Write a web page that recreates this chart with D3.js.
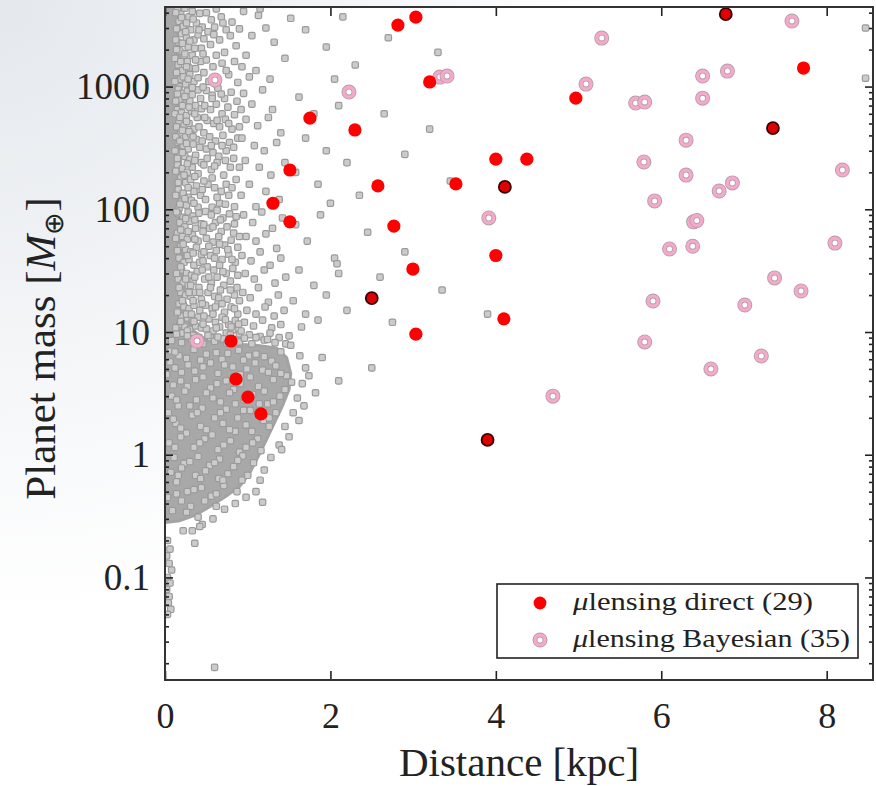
<!DOCTYPE html>
<html>
<head>
<meta charset="utf-8">
<script src="https://cdn.jsdelivr.net/npm/d3@7"></script>
<style>
  html, body { margin: 0; padding: 0; background: #fff; }
  svg { display: block; }
</style>
</head>
<body>
<svg id="chart" width="876" height="786"></svg>
<script>
// Microlensing planets: [distance (kpc), planet mass (Earth masses)]
const directPlanets = [
  [2.816, 3170], [3.033, 3680], [3.20, 1090], [1.752, 553], [2.296, 443],
  [1.51, 209], [1.305, 112], [1.51, 79], [2.574, 155], [2.767, 73],
  [2.997, 32.6], [3.033, 9.6], [3.517, 161], [4.0, 256], [4.375, 256],
  [4.0, 42], [4.097, 12.8], [4.967, 805], [7.72, 1416], [0.798, 8.45],
  [0.858, 4.14], [1.003, 2.95], [1.16, 2.15]
];
// direct measurements drawn with a dark rim
const directPlanetsRimmed = [
  [6.78, 3890], [7.35, 459], [4.109, 152], [2.50, 18.9], [3.90, 1.32]
];
const bayesianPlanets = [
  [0.604, 1130], [0.387, 8.45], [2.224, 902], [3.323, 1194], [3.41, 1218],
  [5.28, 2483], [5.09, 1047], [3.915, 85], [4.69, 3.0], [5.69, 734],
  [5.80, 748], [5.79, 243], [5.92, 117], [5.90, 17.9], [5.80, 8.3],
  [6.10, 47.5], [6.30, 366], [6.30, 190], [6.38, 50], [6.39, 79],
  [6.43, 81], [6.50, 1218], [6.50, 805], [6.70, 141], [6.86, 164],
  [6.80, 1337], [6.60, 5.0], [7.01, 16.6], [7.21, 6.37], [7.37, 27.6],
  [7.58, 3420], [7.69, 21.6], [8.10, 53], [8.19, 209]
];

// Outline of the densest part of the simulated population
const simulatedCore = [
  [0, 4450], [0.17, 4450], [0.15, 2600], [0.18, 1300], [0.16, 600], [0.19, 250],
  [0.17, 110], [0.21, 45], [0.24, 18], [0.32, 10.5], [0.5, 8.6], [0.8, 8.0],
  [1.1, 7.8], [1.35, 7.4], [1.47, 6.2], [1.52, 4.6], [1.5, 3.4], [1.42, 2.5],
  [1.32, 1.8], [1.22, 1.3], [1.12, 0.95], [1.02, 0.7], [0.9, 0.55], [0.72, 0.45],
  [0.52, 0.37], [0.36, 0.32], [0.18, 0.29], [0, 0.28]
];

// Simulated planet population: [distance (kpc), mass (Earth masses)]
const simulatedPlanets = [
  // high-mass band
  [0.15,4200],[0.19,3900],[0.24,4350],[0.17,3400],[0.22,3100],[0.29,3700],[0.33,4100],[0.2,2700],
  [0.26,2500],[0.16,2300],[0.31,2900],[0.38,3300],[0.42,3950],[0.18,1950],[0.23,1750],[0.28,2100],
  [0.35,2400],[0.4,2650],[0.16,1500],[0.21,1350],[0.27,1600],[0.33,1800],[0.44,2050],[0.19,1150],
  [0.25,1050],[0.3,1250],[0.37,1400],[0.43,1600],[0.17,1000],[0.35,1100],[0.4,1180],[0.29,1420],
  [0.47,1300],[0.45,3050],[0.36,2050],
  [0.5,4000],[0.56,3500],[0.62,4300],[0.68,3700],[0.52,2800],[0.6,3050],[0.74,2900],[0.81,3350],
  [0.55,2200],[0.66,2400],[0.72,1900],[0.86,2150],[0.5,1650],[0.58,1450],[0.69,1550],[0.77,1250],
  [0.84,1600],[0.53,1100],[0.63,1020],[0.88,1080],
  [0.95,4100],[1.13,3800],[1.15,4300],[1.05,2600],[1.22,3000],[0.98,1800],[1.32,2300],[1.1,1350],
  [1.45,1700],[1.27,1150],[1.52,3600],[1.02,1200],
  [1.7,2900],[1.95,2100],[2.15,3700],[2.3,1500],[2.05,1150],[2.7,2500],[3.3,1900],
  [8.47,3000],[8.47,1170],
  [0.13,4000],[0.2,3650],[0.26,3300],[0.14,2950],[0.25,2800],[0.13,2400],[0.21,2250],[0.3,2350],
  [0.14,2000],[0.24,1850],[0.12,1700],[0.19,1600],[0.26,1450],[0.14,1300],[0.22,1200],[0.12,1100],
  [0.28,1150],[0.34,3550],[0.41,2900],[0.47,2450],[0.59,2650],[0.7,3300],[0.79,2600],[0.9,2950],
  [0.37,1650],[0.46,1850],[0.62,1800],[0.74,1350],[0.93,1450],
  // 100 - 1000
  [0.16,950],[0.21,880],[0.27,920],[0.33,860],[0.4,940],[0.18,780],[0.24,720],[0.3,760],[0.37,700],
  [0.43,800],[0.15,650],[0.2,610],[0.26,580],[0.32,630],[0.39,560],[0.44,660],[0.17,520],[0.23,480],
  [0.29,500],[0.35,450],[0.41,470],[0.19,420],[0.25,390],[0.31,410],[0.38,370],[0.16,350],[0.22,330],
  [0.28,310],[0.34,340],[0.42,320],[0.18,285],[0.24,270],[0.3,255],[0.37,275],[0.44,240],[0.15,230],
  [0.21,215],[0.27,200],[0.33,220],[0.4,195],[0.19,180],[0.25,165],[0.31,175],[0.38,155],[0.16,145],
  [0.22,135],[0.28,125],[0.35,140],[0.43,130],[0.2,115],[0.26,108],[0.32,118],[0.4,104],[0.17,102],
  [0.5,930],[0.57,850],[0.64,970],[0.72,800],[0.8,900],[0.87,760],[0.48,700],[0.55,650],[0.62,720],
  [0.69,600],[0.76,680],[0.84,590],[0.51,530],[0.59,500],[0.66,470],[0.73,540],[0.81,450],[0.47,420],
  [0.54,390],[0.61,360],[0.7,400],[0.78,350],[0.88,380],[0.5,310],[0.58,290],[0.65,270],[0.74,300],
  [0.83,260],[0.47,230],[0.56,210],[0.63,240],[0.71,190],[0.79,220],[0.86,175],[0.52,160],[0.6,150],
  [0.68,140],[0.77,130],[0.49,120],[0.66,112],[0.84,105],
  [0.95,880],[1.05,720],[1.18,940],[1.3,650],[0.98,540],[1.12,480],[1.25,560],[1.4,420],[0.93,380],
  [1.08,330],[1.2,300],[1.35,350],[0.97,250],[1.14,220],[1.28,190],[1.45,240],[1.02,160],[1.22,140],
  [1.38,120],[0.92,130],[1.1,105],
  [1.62,820],[1.8,600],[1.7,380],[1.95,300],[2.1,700],[1.58,200],[1.85,160],[2.2,240],[2.35,130],[2.0,112],
  [2.65,600],[2.9,280],[3.2,450],[3.45,170],
  [0.15,870],[0.24,830],[0.13,760],[0.21,700],[0.29,680],[0.12,600],[0.18,560],[0.26,520],[0.14,470],
  [0.21,440],[0.29,430],[0.13,390],[0.18,360],[0.26,345],[0.12,300],[0.21,290],[0.15,260],[0.27,235],
  [0.13,205],[0.23,190],[0.16,165],[0.28,150],[0.13,130],[0.24,122],[0.18,110],
  [0.33,980],[0.46,990],[0.57,800],[0.68,870],[0.92,650],[0.36,600],[0.48,560],[0.63,530],[0.77,500],
  [0.9,470],[0.34,390],[0.45,360],[0.56,330],[0.69,330],[0.83,320],[0.36,250],[0.51,260],[0.6,225],
  [0.73,250],[0.9,220],[0.36,185],[0.47,170],[0.57,180],[0.74,160],[0.45,145],[0.63,125],[0.81,150],
  [0.35,112],[0.57,104],[0.73,110],
  // 10 - 100
  [0.16,92],[0.22,86],[0.28,95],[0.34,88],[0.41,93],[0.18,78],[0.24,72],[0.3,80],[0.37,70],[0.44,76],
  [0.15,64],[0.21,60],[0.27,57],[0.33,62],[0.4,55],[0.19,50],[0.25,47],[0.31,45],[0.38,49],[0.44,43],
  [0.17,40],[0.23,37],[0.29,39],[0.35,35],[0.42,37],[0.2,32],[0.26,30],[0.32,29],[0.39,31],[0.16,27],
  [0.22,25],[0.28,24],[0.34,26],[0.41,23],[0.19,21],[0.25,20],[0.31,19.5],[0.37,21],[0.44,18.5],
  [0.17,17],[0.23,16],[0.29,15.5],[0.35,16.5],[0.42,15],[0.2,13.5],[0.27,13],[0.33,12.5],[0.4,13.2],
  [0.18,11.5],[0.24,11],[0.3,10.5],[0.37,11.2],[0.44,10.8],[0.21,9.8],[0.34,9.4],[0.41,9.0],
  [0.49,96],[0.56,90],[0.63,98],[0.7,85],[0.78,92],[0.86,87],[0.47,75],[0.54,70],[0.61,78],[0.68,66],
  [0.75,72],[0.83,64],[0.5,58],[0.58,54],[0.65,60],[0.72,51],[0.8,56],[0.88,49],[0.47,45],[0.55,42],
  [0.62,46],[0.69,39],[0.77,43],[0.85,37],[0.51,34],[0.59,32],[0.66,35],[0.74,30],[0.82,33],[0.48,27],
  [0.56,25],[0.63,28],[0.71,24],[0.79,26],[0.87,23],[0.52,21],[0.6,19.5],[0.67,22],[0.75,18.5],
  [0.84,20],[0.49,16.5],[0.57,15.5],[0.64,17],[0.72,14.5],[0.8,16],[0.88,14],[0.53,12.8],[0.61,12],
  [0.69,13.2],[0.77,11.5],[0.85,12.4],[0.5,10.6],[0.58,10.2],[0.66,11],[0.74,9.8],[0.82,10.4],
  [0.9,9.6],[0.55,9.0],[0.7,8.8],[0.86,8.6],
  [0.95,90],[1.06,78],[1.17,95],[1.3,70],[1.42,85],[0.98,60],[1.1,55],[1.22,63],[1.35,48],[0.93,42],
  [1.04,38],[1.15,45],[1.27,35],[1.4,40],[0.97,30],[1.08,27],[1.2,32],[1.33,25],[1.46,28],[0.94,21],
  [1.03,19],[1.13,23],[1.25,17.5],[1.37,20],[0.99,15],[1.1,14],[1.21,16],[1.32,13.5],[1.44,15],
  [0.96,12],[1.07,11.2],[1.18,12.5],[1.29,10.8],[1.4,11.5],[1.02,9.5],[1.15,9.2],[1.27,9.8],
  [1.38,9.0],[1.5,9.3],
  [1.58,75],[1.72,55],[1.88,90],[2.05,40],[1.62,32],[1.8,24],[2.08,36],[2.1,30],[1.55,18],[1.7,14],
  [1.95,20],[2.2,15],[1.65,11],[1.85,12.5],
  [2.45,65],[2.6,28],[2.9,45],[3.35,22],[3.9,14],[2.75,12],
  [0.14,95],[0.25,84],[0.19,68],[0.13,58],[0.28,66],[0.22,52],[0.15,46],[0.27,42],[0.19,34],[0.14,30],
  [0.25,27],[0.17,23],[0.29,21],[0.21,18],[0.15,14.5],[0.26,14],[0.19,12.2],[0.13,10.8],[0.27,10.2],
  [0.36,82],[0.46,66],[0.58,72],[0.67,82],[0.84,76],[0.36,57],[0.53,50],[0.66,52],[0.76,47],[0.9,60],
  [0.34,44],[0.46,38],[0.6,40],[0.81,39],[0.36,28],[0.45,32],[0.53,28],[0.7,31],[0.88,29],[0.31,24],
  [0.42,21],[0.55,23],[0.65,19],[0.79,22],[0.9,18],[0.34,18],[0.45,17],[0.61,16],[0.69,17],[0.84,15.5],
  [0.32,14],[0.47,13.5],[0.58,14],[0.73,12.6],[0.89,11.6],[0.35,12.2],[0.46,11.6],[0.62,10.8],
  [0.8,11.0],[0.92,10.2],
  [0.08,8.5],[0.2,8.2],[0.32,8.8],[0.46,8.0],[0.6,8.4],[0.75,8.1],[0.9,8.3],[1.05,8.0],[1.2,8.6],
  [1.33,8.2],[1.46,8.0],[0.14,9.6],[0.27,9.3],[0.39,8.9],[0.52,9.4],[0.64,9.1],[0.79,9.5],[0.96,8.9],
  [1.1,9.0],[1.24,8.7],
  // low-mass clump
  [0.07,7.0],[0.17,6.4],[0.35,7.2],[0.43,5.9],[0.62,6.8],[0.69,6.0],[0.89,7.1],[1.01,6.4],[1.1,6.6],
  [1.29,5.8],[1.4,6.9],[0.12,5.1],[0.28,5.4],[0.36,4.8],[0.55,5.6],[0.64,4.6],[0.82,5.2],[0.91,4.5],
  [1.09,5.6],[1.18,4.9],[1.34,5.3],[1.47,4.4],[0.02,4.5],[0.19,4.0],[0.27,3.6],[0.46,4.3],[0.55,3.5],
  [0.74,4.0],[0.83,3.4],[1.03,4.3],[1.13,3.6],[1.31,4.1],[1.45,3.4],[1.53,3.9],[0.08,3.0],[0.24,3.3],
  [0.38,2.8],[0.5,3.2],[0.67,2.7],[0.78,3.2],[0.96,2.8],[1.06,3.1],[1.24,2.6],[1.39,3.0],[0.04,2.2],
  [0.16,2.5],[0.33,2.1],[0.45,2.4],[0.6,2.0],[0.74,2.35],[0.88,2.0],[1.03,2.3],[1.19,1.9],[1.34,2.2],
  [0.13,1.8],[0.26,1.5],[0.43,1.7],[0.57,1.45],[0.7,1.8],[0.85,1.55],[0.98,1.75],[1.12,1.35],
  [1.26,1.7],[0.05,1.25],[0.19,1.4],[0.35,1.15],[0.48,1.35],[0.64,1.1],[0.79,1.3],[0.9,1.05],
  [1.06,1.25],[1.16,1.08],[0.11,0.95],[0.23,0.85],[0.4,0.97],[0.54,0.82],[0.66,0.92],[0.83,0.8],
  [0.94,0.98],[1.07,0.86],[0.07,0.72],[0.2,0.78],[0.37,0.68],[0.49,0.74],[0.65,0.64],[0.76,0.7],
  [0.93,0.62],[1.0,0.68],[0.14,0.6],[0.27,0.5],[0.44,0.54],[0.56,0.46],[0.71,0.56],[0.87,0.5],
  [0.03,0.45],[0.2,0.42],[0.31,0.38],[0.48,0.42],[0.62,0.38],[0.09,0.35],[0.26,0.34],[0.4,0.31],
  [0.12,6.9],[0.26,6.1],[0.5,6.6],[0.76,6.7],[0.95,5.9],[1.2,6.3],[0.06,5.7],[0.2,4.7],[0.46,5.2],
  [0.72,5.4],[0.99,5.0],[1.25,4.7],[0.1,3.7],[0.37,4.1],[0.63,3.8],[0.91,3.8],[1.2,3.3],[1.4,4.6],
  [0.14,2.8],[0.3,2.5],[0.58,2.9],[0.85,2.6],[1.14,2.6],[1.31,2.7],[0.1,1.95],[0.39,2.2],[0.67,2.2],
  [0.95,2.3],[1.26,2.0],[0.19,1.65],[0.5,1.6],[0.78,1.6],[1.05,1.55],[0.12,1.15],[0.42,1.25],
  [0.71,1.2],[0.98,1.15],[0.3,0.88],[0.6,0.86],[0.88,0.9],[0.16,0.68],[0.43,0.64],[0.7,0.62],
  [0.35,0.52],[0.62,0.48],[0.14,0.48],
  // clump fringe and low-mass tail
  [1.52,7.8],[1.63,6.4],[1.7,5.1],[1.66,3.8],[1.74,4.4],[1.6,2.9],[1.82,3.2],[1.55,2.2],[1.68,2.5],
  [1.45,1.7],[1.5,1.4],[1.38,1.2],[1.62,1.9],[1.28,0.95],[1.2,0.75],[1.15,0.62],[1.18,0.41],[1.1,0.5],
  [0.98,0.45],[0.85,0.4],[0.72,0.36],[0.58,0.3],[0.45,0.27],[0.36,0.19],[0.22,0.24],[0.33,0.24],
  [0.42,0.26],[1.41,1.1],[1.9,6.2],[2.1,4.0],[2.5,5.1],
  [0.03,0.2],[0.06,0.17],[0.02,0.15],[0.05,0.13],[0.08,0.115],[0.03,0.1],[0.06,0.09],[0.02,0.08],
  [0.05,0.07],[0.04,0.062],[0.07,0.055],[0.03,0.05],[0.6,0.0185]
];

const xTickValues = [0, 2, 4, 6, 8];
const yTickValues = [0.1, 1, 10, 100, 1000];
const legendItems = ["direct (29)", "Bayesian (35)"];

const W = 876, H = 786;
const plot = { left: 165, right: 873, top: 7, bottom: 680 };

const x = d3.scaleLinear().domain([0, 8.56]).range([plot.left, plot.right]);
const y = d3.scaleLog().domain([0.0146, 4450]).range([plot.bottom, plot.top]);

const svg = d3.select("#chart");
const defs = svg.append("defs");

// soft backdrop, darkest at the top-left corner
const grad = defs.append("radialGradient").attr("id", "backdrop")
  .attr("gradientUnits", "userSpaceOnUse").attr("cx", 0).attr("cy", 0).attr("r", 620);
grad.append("stop").attr("offset", 0).attr("stop-color", "#e4e8ed");
grad.append("stop").attr("offset", 0.55).attr("stop-color", "#f3f5f7");
grad.append("stop").attr("offset", 1).attr("stop-color", "#ffffff");
svg.append("rect").attr("width", W).attr("height", H).attr("fill", "url(#backdrop)");

defs.append("clipPath").attr("id", "plotClip").append("rect")
  .attr("x", plot.left).attr("y", plot.top)
  .attr("width", plot.right - plot.left).attr("height", plot.bottom - plot.top);

svg.append("rect").attr("x", plot.left).attr("y", plot.top)
  .attr("width", plot.right - plot.left).attr("height", plot.bottom - plot.top)
  .attr("fill", "#fff");

const pts = svg.append("g").attr("clip-path", "url(#plotClip)");

// simulated population
pts.append("path")
  .attr("d", d3.line().x(d => x(d[0])).y(d => y(d[1]))(simulatedCore) + "Z")
  .attr("fill", "#a8a8a8").attr("stroke", "#a3a3a3").attr("stroke-width", 3)
  .attr("stroke-linejoin", "round");

const sq = 6.4;
pts.append("g").selectAll("rect").data(simulatedPlanets).join("rect")
  .attr("x", d => x(d[0]) - sq / 2).attr("y", d => y(d[1]) - sq / 2)
  .attr("width", sq).attr("height", sq).attr("rx", 1.5)
  .attr("fill", "#cbcbcb").attr("stroke", "#9a9a9a").attr("stroke-width", 1.2);

// Bayesian estimates: pink rings
function ring(sel) {
  sel.append("circle").attr("r", 5).attr("fill", "#fff")
    .attr("stroke", "#b39ea9").attr("stroke-width", 5);
  sel.append("circle").attr("r", 5).attr("fill", "none")
    .attr("stroke", "#f6a9cb").attr("stroke-width", 3.2);
}
pts.append("g").selectAll("g").data(bayesianPlanets).join("g")
  .attr("transform", d => `translate(${x(d[0])},${y(d[1])})`)
  .call(ring);

// direct measurements: red discs
pts.append("g").selectAll("circle").data(directPlanets).join("circle")
  .attr("cx", d => x(d[0])).attr("cy", d => y(d[1])).attr("r", 6.6)
  .attr("fill", "#ff0000");
pts.append("g").selectAll("circle").data(directPlanetsRimmed).join("circle")
  .attr("cx", d => x(d[0])).attr("cy", d => y(d[1])).attr("r", 6)
  .attr("fill", "#e00000").attr("stroke", "#3a0000").attr("stroke-width", 1.8);

// axes: ticks point inward on all four sides
const ink = "#222";
const fontFamily = "'Liberation Serif', 'Times New Roman', serif";
const logTicks = y.ticks();
const isDecade = v => Math.abs(Math.log10(v) - Math.round(Math.log10(v))) < 1e-6;
const minorY = logTicks.filter(v => !isDecade(v));
const majorY = logTicks.filter(isDecade);

function styleAxis(g) {
  g.select(".domain").remove();
  g.selectAll("line").attr("stroke", ink).attr("stroke-width", 1.6);
}

svg.append("g").attr("transform", `translate(${plot.left},0)`)
  .call(d3.axisLeft(y).tickValues(minorY).tickSize(-4).tickFormat(""))
  .call(styleAxis);
svg.append("g").attr("transform", `translate(${plot.right},0)`)
  .call(d3.axisRight(y).tickValues(minorY).tickSize(-4).tickFormat(""))
  .call(styleAxis);
svg.append("g").attr("transform", `translate(${plot.right},0)`)
  .call(d3.axisRight(y).tickValues(majorY).tickSize(-8).tickFormat(""))
  .call(styleAxis);
const yAxis = svg.append("g").attr("transform", `translate(${plot.left},0)`)
  .call(d3.axisLeft(y).tickValues(majorY).tickSize(-8).tickPadding(15)
    .tickFormat(v => yTickValues.includes(v) ? d3.format("~g")(v) : ""))
  .call(styleAxis);
yAxis.selectAll("text").attr("fill", ink).attr("font-family", fontFamily)
  .attr("font-size", 37).attr("dy", "0.33em");

const xAxis = svg.append("g").attr("transform", `translate(0,${plot.bottom})`)
  .call(d3.axisBottom(x).tickValues(xTickValues).tickSize(-9).tickFormat(d3.format("d")))
  .call(styleAxis);
xAxis.selectAll("text").attr("fill", ink).attr("font-family", fontFamily)
  .attr("font-size", 36).attr("y", 48).attr("dy", 0);
svg.append("g").attr("transform", `translate(0,${plot.top})`)
  .call(d3.axisTop(x).tickValues(xTickValues).tickSize(-9).tickFormat(""))
  .call(styleAxis);

// frame
svg.append("rect").attr("x", plot.left).attr("y", plot.top)
  .attr("width", plot.right - plot.left).attr("height", plot.bottom - plot.top)
  .attr("fill", "none").attr("stroke", "#333").attr("stroke-width", 2);

// axis titles
svg.append("text").attr("x", (plot.left + plot.right) / 2).attr("y", 776)
  .attr("text-anchor", "middle").attr("font-family", fontFamily)
  .attr("font-size", 41).attr("fill", ink).text("Distance [kpc]");

const yt = svg.append("text")
  .attr("transform", `translate(55,${(plot.top + plot.bottom) / 2 + 5}) rotate(-90)`)
  .attr("text-anchor", "middle").attr("font-family", fontFamily)
  .attr("font-size", 43).attr("fill", ink);
yt.append("tspan").text("Planet mass [");
yt.append("tspan").attr("font-style", "italic").text("M");
yt.append("tspan").attr("font-size", 27).attr("dy", 8).text("⊕");
yt.append("tspan").attr("dy", -8).text("]");

// legend
const lg = svg.append("g");
lg.append("rect").attr("x", 497).attr("y", 584).attr("width", 361).attr("height", 74)
  .attr("fill", "#fff").attr("stroke", "#222").attr("stroke-width", 1.6);
lg.append("circle").attr("cx", 540).attr("cy", 603).attr("r", 6.4).attr("fill", "#ff0000");
lg.append("g").attr("transform", "translate(540,640)").call(ring);
const legendWidths = [240, 277];
legendItems.forEach((label, i) => {
  const t = lg.append("text").attr("x", 573).attr("y", 610 + i * 37)
    .attr("font-family", fontFamily).attr("font-size", 25).attr("fill", ink)
    .attr("textLength", legendWidths[i]).attr("lengthAdjust", "spacingAndGlyphs");
  t.append("tspan").attr("font-style", "italic").text("μ");
  t.append("tspan").text("lensing " + label);
});
</script>
</body>
</html>
